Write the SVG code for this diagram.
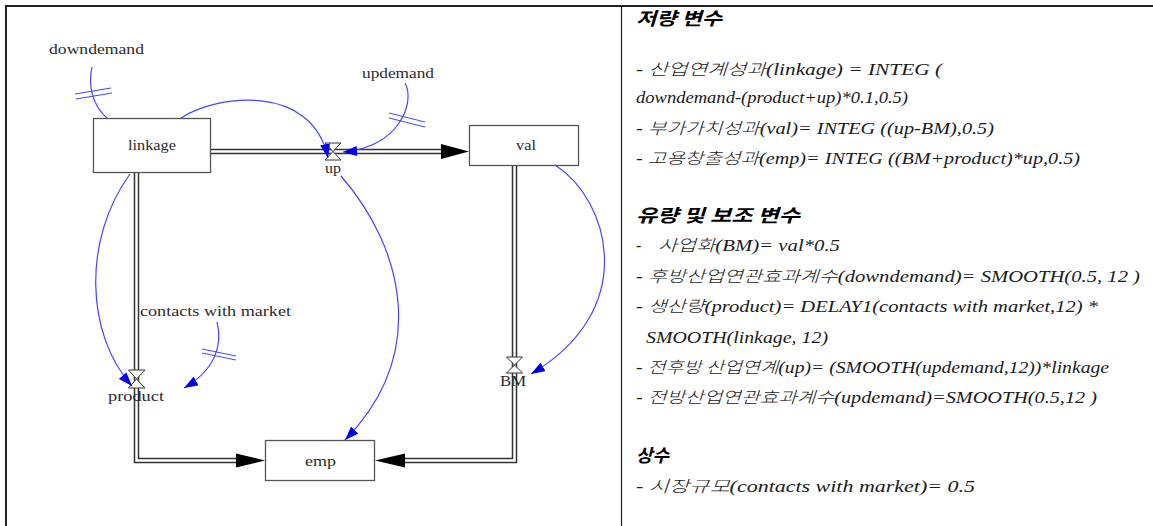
<svg xmlns="http://www.w3.org/2000/svg" width="1153" height="526" viewBox="0 0 1153 526">
  <style>
    .frame { stroke: #222; fill: none; }
    .box { fill: #fff; stroke: #555; stroke-width: 1.3; }
    .lbl { font-family: "Liberation Serif", serif; font-size: 14px; fill: #2a2a2a; }
    .pipe-out { fill: none; stroke: #333; stroke-width: 5.5; stroke-linejoin: miter; }
    .pipe-in { fill: none; stroke: #fff; stroke-width: 2.5; stroke-linejoin: miter; }
    .valve { fill: #fff; stroke: #333; stroke-width: 1; }
    .flowhead { fill: #000; }
    .link { fill: none; stroke: #4444ff; stroke-width: 1.2; }
    .hash { fill: none; stroke: #4444ff; stroke-width: 1; }
    .eq { font-family: "Liberation Serif", serif; font-style: italic; font-size: 16px; fill: #1a1a1a; }
    .kr { font-family: "Noto Sans CJK KR", sans-serif; font-style: italic; font-weight: 300; }
    .head { font-family: "Noto Sans CJK KR", sans-serif; font-style: italic; font-weight: bold; font-size: 18px; fill: #000; }
  </style>
  <defs>
    <marker id="arrow" viewBox="0 0 14 10" refX="14" refY="5" markerWidth="14" markerHeight="10" markerUnits="userSpaceOnUse" orient="auto">
      <path d="M0,0 L14,5 L0,10 z" fill="#0000ee"/>
    </marker>
  </defs>

  <rect width="1153" height="526" fill="#fff"/>

  <!-- table frame -->
  <line class="frame" x1="5" y1="6" x2="1153" y2="6" stroke-width="2.2" stroke="#333"/>
  <line class="frame" x1="6" y1="5" x2="6" y2="526" stroke-width="2"/>
  <line class="frame" x1="621.5" y1="6" x2="621.5" y2="526" stroke-width="1.2"/>

  <!-- flow pipes -->
  <g id="pipes">
    <path class="pipe-out" d="M210,151.5 H443"/>
    <path class="pipe-in" d="M210,151.5 H443"/>
    <path class="pipe-out" d="M136.5,172 V460.5 H238"/>
    <path class="pipe-in" d="M136.5,172 V460.5 H238"/>
    <path class="pipe-out" d="M514.5,165 V460.5 H403"/>
    <path class="pipe-in" d="M514.5,165 V460.5 H403"/>
    <polygon class="flowhead" points="469,151.5 441,144 441,159"/>
    <polygon class="flowhead" points="265,460.5 236,453.5 236,467.5"/>
    <polygon class="flowhead" points="375,460.5 405,453.5 405,467.5"/>
  </g>

  <!-- stocks -->
  <g id="linkage">
    <rect class="box" x="93.5" y="118.5" width="117" height="54"/>
    <text class="lbl" x="152" y="150" text-anchor="middle" textLength="48" lengthAdjust="spacingAndGlyphs">linkage</text>
  </g>
  <g id="val">
    <rect class="box" x="469.5" y="125.5" width="109" height="40"/>
    <text class="lbl" x="526" y="150" text-anchor="middle" textLength="20" lengthAdjust="spacingAndGlyphs">val</text>
  </g>
  <g id="emp">
    <rect class="box" x="265.5" y="440.5" width="109" height="40"/>
    <text class="lbl" x="320.5" y="466" text-anchor="middle" textLength="31" lengthAdjust="spacingAndGlyphs">emp</text>
  </g>

  <!-- flows (valves) -->
  <g id="up">
    <polygon class="valve" points="325,143 341,143 333,151.5 341,160 325,160 333,151.5"/>
    <text class="lbl" x="333" y="173" text-anchor="middle" textLength="16" lengthAdjust="spacingAndGlyphs">up</text>
  </g>
  <g id="product">
    <polygon class="valve" points="128.5,370 145,370 136.5,379 145,388 128.5,388 136.5,379"/>
    <text class="lbl" x="136" y="401" text-anchor="middle" textLength="56" lengthAdjust="spacingAndGlyphs">product</text>
  </g>
  <g id="BM">
    <polygon class="valve" points="506.5,357 522.5,357 514.5,365 522.5,373 506.5,373 514.5,365"/>
    <text class="lbl" x="513" y="386" text-anchor="middle" textLength="26" lengthAdjust="spacingAndGlyphs">BM</text>
  </g>

  <!-- auxiliaries -->
  <g id="downdemand">
    <text class="lbl" x="49" y="54" textLength="95" lengthAdjust="spacingAndGlyphs">downdemand</text>
  </g>
  <g id="updemand">
    <text class="lbl" x="362" y="78" textLength="72" lengthAdjust="spacingAndGlyphs">updemand</text>
  </g>
  <g id="contacts-with-market">
    <text class="lbl" x="140" y="316" textLength="151" lengthAdjust="spacingAndGlyphs">contacts with market</text>
  </g>

  <!-- causal links -->
  <g id="connectors">
    <path class="link" d="M92,67 C88,85 92,105 107,118"/>
    <line class="hash" x1="75" y1="94" x2="111" y2="88"/>
    <line class="hash" x1="76" y1="99" x2="112" y2="93"/>

    <path class="link" d="M181,118 C215,95 312,82 328,158" marker-end="url(#arrow)"/>

    <path class="link" d="M405,83 C416,103 398,148 343,152" marker-end="url(#arrow)"/>
    <line class="hash" x1="389" y1="113" x2="425" y2="122"/>
    <line class="hash" x1="389" y1="118" x2="425" y2="127"/>

    <path class="link" d="M341,176 C405,250 428,355 345,440" marker-end="url(#arrow)"/>

    <path class="link" d="M130,174 C82,240 86,335 132,386" marker-end="url(#arrow)"/>

    <path class="link" d="M217,322 C223,345 215,370 184,388" marker-end="url(#arrow)"/>
    <line class="hash" x1="202" y1="349" x2="236" y2="356"/>
    <line class="hash" x1="202" y1="353" x2="236" y2="360"/>

    <path class="link" d="M555,165 C610,200 640,310 531,374" marker-end="url(#arrow)"/>
  </g>

  <!-- equations panel -->
  <g id="equations">
    <text class="head" x="636" y="25" textLength="86" lengthAdjust="spacingAndGlyphs">저량 변수</text>
    <text class="eq" x="636" y="75" textLength="306" lengthAdjust="spacingAndGlyphs">- <tspan class="kr">산업연계성과</tspan>(linkage) = INTEG (</text>
    <text class="eq" x="636" y="103" textLength="272" lengthAdjust="spacingAndGlyphs">downdemand-(product+up)*0.1,0.5)</text>
    <text class="eq" x="636" y="134" textLength="358" lengthAdjust="spacingAndGlyphs">- <tspan class="kr">부가가치성과</tspan>(val)= INTEG ((up-BM),0.5)</text>
    <text class="eq" x="636" y="164" textLength="444" lengthAdjust="spacingAndGlyphs">- <tspan class="kr">고용창출성과</tspan>(emp)= INTEG ((BM+product)*up,0.5)</text>

    <text class="head" x="636" y="222" textLength="164" lengthAdjust="spacingAndGlyphs">유량 및 보조 변수</text>
    <text class="eq" x="636" y="251">-</text>
    <text class="eq" x="658" y="251" textLength="182" lengthAdjust="spacingAndGlyphs"><tspan class="kr">사업화</tspan>(BM)= val*0.5</text>
    <text class="eq" x="636" y="282" textLength="504" lengthAdjust="spacingAndGlyphs">- <tspan class="kr">후방산업연관효과계수</tspan>(downdemand)= SMOOTH(0.5, 12 )</text>
    <text class="eq" x="636" y="312" textLength="462" lengthAdjust="spacingAndGlyphs">- <tspan class="kr">생산량</tspan>(product)= DELAY1(contacts with market,12) *</text>
    <text class="eq" x="646" y="343" textLength="182" lengthAdjust="spacingAndGlyphs">SMOOTH(linkage, 12)</text>
    <text class="eq" x="636" y="373" textLength="473" lengthAdjust="spacingAndGlyphs">- <tspan class="kr">전후방 산업연계</tspan>(up)= (SMOOTH(updemand,12))*linkage</text>
    <text class="eq" x="636" y="403" textLength="461" lengthAdjust="spacingAndGlyphs">- <tspan class="kr">전방산업연관효과계수</tspan>(updemand)=SMOOTH(0.5,12 )</text>

    <text class="head" x="636" y="462" textLength="33" lengthAdjust="spacingAndGlyphs">상수</text>
    <text class="eq" x="636" y="492" textLength="339" lengthAdjust="spacingAndGlyphs">- <tspan class="kr">시장규모</tspan>(contacts with market)= 0.5</text>
  </g>
</svg>
